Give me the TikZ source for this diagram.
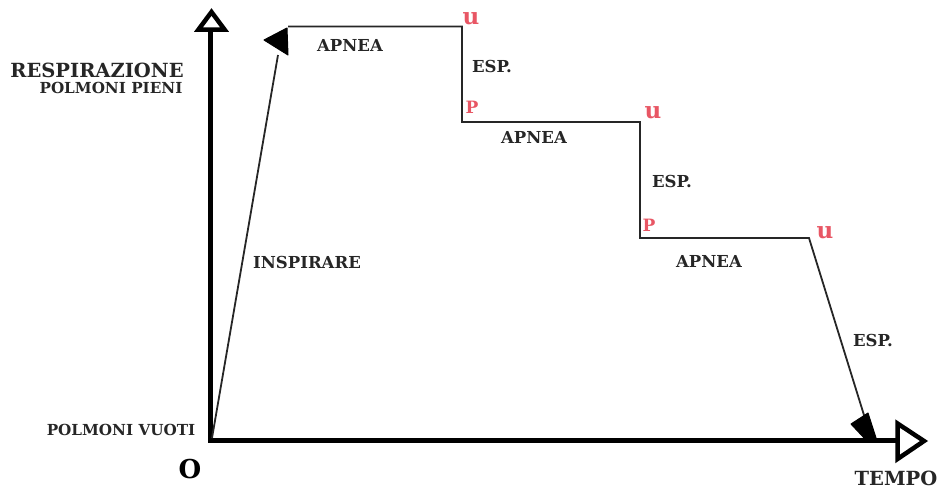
\documentclass[tikz,border=0pt]{standalone}
\usepackage{fontspec}
\setmainfont{DejaVu Serif}
\definecolor{lab}{RGB}{232,86,100}
\tikzset{
  axis/.style={line width=5pt,black},
  axtip/.style={line width=4.5pt,black,fill=white,line join=miter},
  curve/.style={line width=1.8pt,black!85},
  head/.style={fill=black,draw=black,line width=1pt,line join=round},
  txt/.style={font=\bfseries\fontsize{16.5}{16.5}\selectfont,inner sep=0pt,text=black!85},
  big/.style={font=\bfseries\fontsize{19.5}{19.5}\selectfont,inner sep=0pt,text=black!85},
  small/.style={font=\bfseries\fontsize{15.2}{15.2}\selectfont,inner sep=0pt,text=black!85},
  redlab/.style={inner sep=0pt,text=lab},
}
\begin{document}
\begin{tikzpicture}[x=1pt,y=-1pt]
\useasboundingbox (0,0) rectangle (946,491);
% axes
\coordinate (O) at (210.5,440);
\coordinate (ytop) at (210.5,30);
\coordinate (xend) at (897.5,440);
\draw[axis] (210.5,442.5) -- (ytop);
\draw[axis] (208,440) -- (xend);
\draw[axtip] (211.5,12) -- (224.5,29.5) -- (198.5,29.5) -- cycle;
\draw[axtip] (897.5,423.5) -- (924,441) -- (897.5,459) -- cycle;
% curve
\coordinate (a0) at (212,438);
\coordinate (a1) at (278,55);
\coordinate (b0) at (288,26.5);
\coordinate (b1) at (462,26.5);
\coordinate (b2) at (462,122);
\coordinate (b3) at (640,122);
\coordinate (b4) at (640,238);
\coordinate (b5) at (809,238);
\coordinate (b6) at (868,428);
\draw[curve] (a0) -- (a1);
\draw[curve] (b0) -- (b1) -- (b2) -- (b3) -- (b4) -- (b5) -- (b6);
\draw[head] (264,40) -- (287,28) -- (288,55) -- cycle;
\draw[head] (851,424) -- (868,413) -- (877,441) -- (866,440) -- cycle;
% labels
\node[big] (resp) at (97,70) {RESPIRAZIONE};
\node[small] (pieni) at (111,88) {POLMONI PIENI};
\node[small] (vuoti) at (121,430) {POLMONI VUOTI};
\node[font=\bfseries\fontsize{26}{26}\selectfont,inner sep=0pt] (zero) at (190,469) {O};
\node[big] (tempo) at (896,478) {TEMPO};
\node[txt] (ap1) at (350,45) {APNEA};
\node[txt] (ap2) at (534,137) {APNEA};
\node[txt] (ap3) at (709,261) {APNEA};
\node[txt] (es1) at (492,66) {ESP.};
\node[txt] (es2) at (672,181) {ESP.};
\node[txt] (es3) at (873,340) {ESP.};
\node[txt] (insp) at (307,262) {INSPIRARE};
\node[redlab,font=\bfseries\fontsize{23}{23}\selectfont] (u1) at (471,19) {u};
\node[redlab,font=\bfseries\fontsize{23}{23}\selectfont] (u2) at (653,113) {u};
\node[redlab,font=\bfseries\fontsize{23}{23}\selectfont] (u3) at (825,233) {u};
\node[redlab,font=\bfseries\fontsize{17}{17}\selectfont] (p1) at (472,107) {P};
\node[redlab,font=\bfseries\fontsize{17}{17}\selectfont] (p2) at (649,225) {P};
\end{tikzpicture}
\end{document}
